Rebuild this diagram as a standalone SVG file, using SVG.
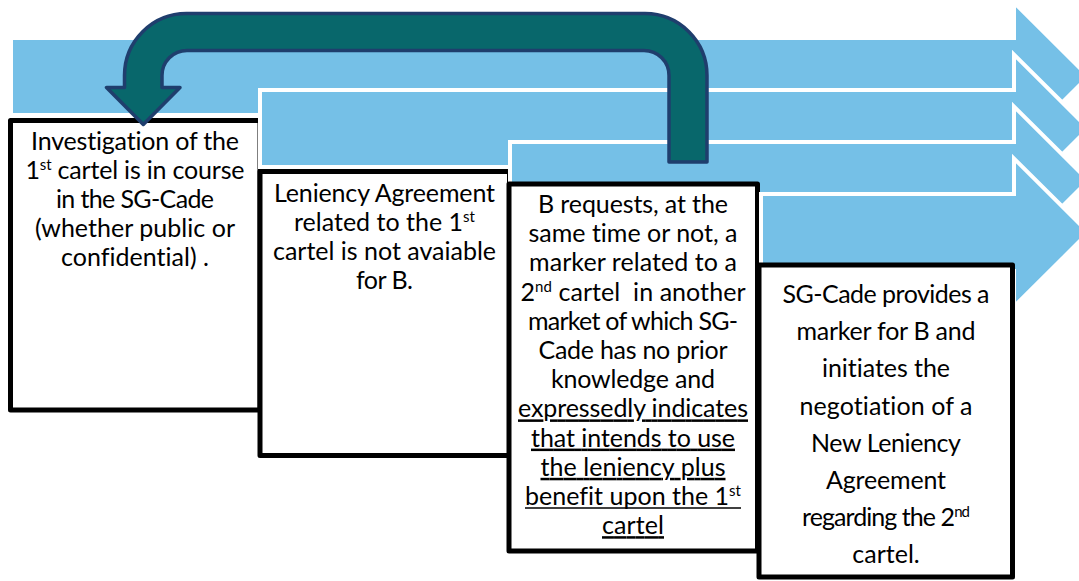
<svg xmlns="http://www.w3.org/2000/svg" width="1079" height="581" viewBox="0 0 1079 581">
<style>
.arr{fill:#75C0E7;stroke:#FFFFFF;stroke-width:4;stroke-linejoin:miter}
.box{fill:#FFFFFF;stroke:#000000;stroke-width:5;stroke-linejoin:round}
.t{font-family:Lato,"Liberation Sans",sans-serif;font-size:25px;fill:#000000;text-anchor:middle;font-variant-ligatures:none;font-feature-settings:"liga" 0}
.sup{font-size:15px}
.u{text-decoration:underline}
.ul{stroke:#000000;stroke-width:1.6}
.uturn{fill:#08676B;stroke:#1F3E6D;stroke-width:3.5;stroke-linejoin:round}
</style>
<rect width="1079" height="581" fill="#FFFFFF"/>
<g id="arrow1"><polygon class="arr" points="11,38 1014,38 1014,2.5 1088.5,76.5 1014,150.5 1014,115 11,115"/></g>
<g id="box1">
<rect class="box" x="10.5" y="120.5" width="249.5" height="289.5"/>
<text class="t" x="135" y="150" textLength="208">Investigation of the</text>
<text class="t" x="135" y="179" textLength="219">1<tspan class="sup" dy="-9">st</tspan><tspan dy="9"> cartel is in course</tspan></text>
<text class="t" x="135" y="208" textLength="158">in the SG-Cade</text>
<text class="t" x="135" y="237" textLength="200">(whether public or</text>
<text class="t" x="135" y="266" textLength="148">confidential) .</text>
</g>
<g id="arrow2"><polygon class="arr" points="260,90 1014,90 1014,54.5 1088.5,128.5 1014,202.5 1014,167 260,167"/></g>
<g id="box2">
<rect class="box" x="260" y="171.5" width="249.5" height="284"/>
<text class="t" x="384.5" y="202" textLength="221">Leniency Agreement</text>
<text class="t" x="384.5" y="231" textLength="181">related to the 1<tspan class="sup" dy="-9">st</tspan></text>
<text class="t" x="384.5" y="260" textLength="223">cartel is not avaiable</text>
<text class="t" x="384.5" y="289" textLength="57">for B.</text>
</g>
<g id="arrow3"><polygon class="arr" points="510,142 1014,142 1014,106.5 1088.5,180.5 1014,254.5 1014,219 510,219"/></g>
<g id="box3">
<rect class="box" x="509" y="184" width="248.5" height="367"/>
<text class="t" x="633" y="213" textLength="190">B requests, at the</text>
<text class="t" x="633" y="242.2" textLength="209">same time or not, a</text>
<text class="t" x="633" y="271.4" textLength="208">marker related to a</text>
<text class="t" x="633" y="300.6" textLength="225">2<tspan class="sup" dy="-9">nd</tspan><tspan dy="9"> cartel&#160; in another</tspan></text>
<text class="t" x="633" y="329.8" textLength="210">market of which SG-</text>
<text class="t" x="633" y="359" textLength="189">Cade has no prior</text>
<text class="t" x="633" y="388.2" textLength="164">knowledge and</text>
<text class="t u" x="633" y="417.4" textLength="230">expressedly indicates</text>
<text class="t u" x="633" y="446.6" textLength="204">that intends to use</text>
<text class="t u" x="633" y="475.8" textLength="185">the leniency plus</text>
<text class="t" x="633" y="505" textLength="216">benefit upon the 1<tspan class="sup" dy="-9">st</tspan></text>
<line class="ul" x1="525" y1="508" x2="741" y2="508"/>
<text class="t u" x="633" y="534.2" textLength="62">cartel</text>
</g>
<g id="arrow4"><polygon class="arr" points="761,194 1014,194 1014,158.5 1088.5,232.5 1014,306.5 1014,271 761,271"/></g>
<g id="box4">
<rect class="box" x="759" y="265" width="253.5" height="312"/>
<text class="t" x="886" y="303" textLength="207">SG-Cade provides a</text>
<text class="t" x="886" y="340" textLength="179">marker for B and</text>
<text class="t" x="886" y="377" textLength="128">initiates the</text>
<text class="t" x="886" y="414.5" textLength="173">negotiation of a</text>
<text class="t" x="886" y="451.5" textLength="150">New Leniency</text>
<text class="t" x="886" y="489" textLength="120">Agreement</text>
<text class="t" x="886" y="526" textLength="168">regarding the 2<tspan class="sup" dy="-9">nd</tspan></text>
<text class="t" x="886" y="563">cartel.</text>
</g>
<g id="connectors">
<path id="uturn" class="uturn" d="M 669 162 L 669 75.5 A 25 25 0 0 0 644 50.5 L 187 50.5 A 25 25 0 0 0 162 75.5 L 162 87.5 L 180 87.5 L 143.3 124.5 L 106.5 87.5 L 124.5 87.5 L 124.5 75.5 A 62 62 0 0 1 186.5 13.5 L 645 13.5 A 62 62 0 0 1 707 75.5 L 707 162 Z"/>
</g>
</svg>
